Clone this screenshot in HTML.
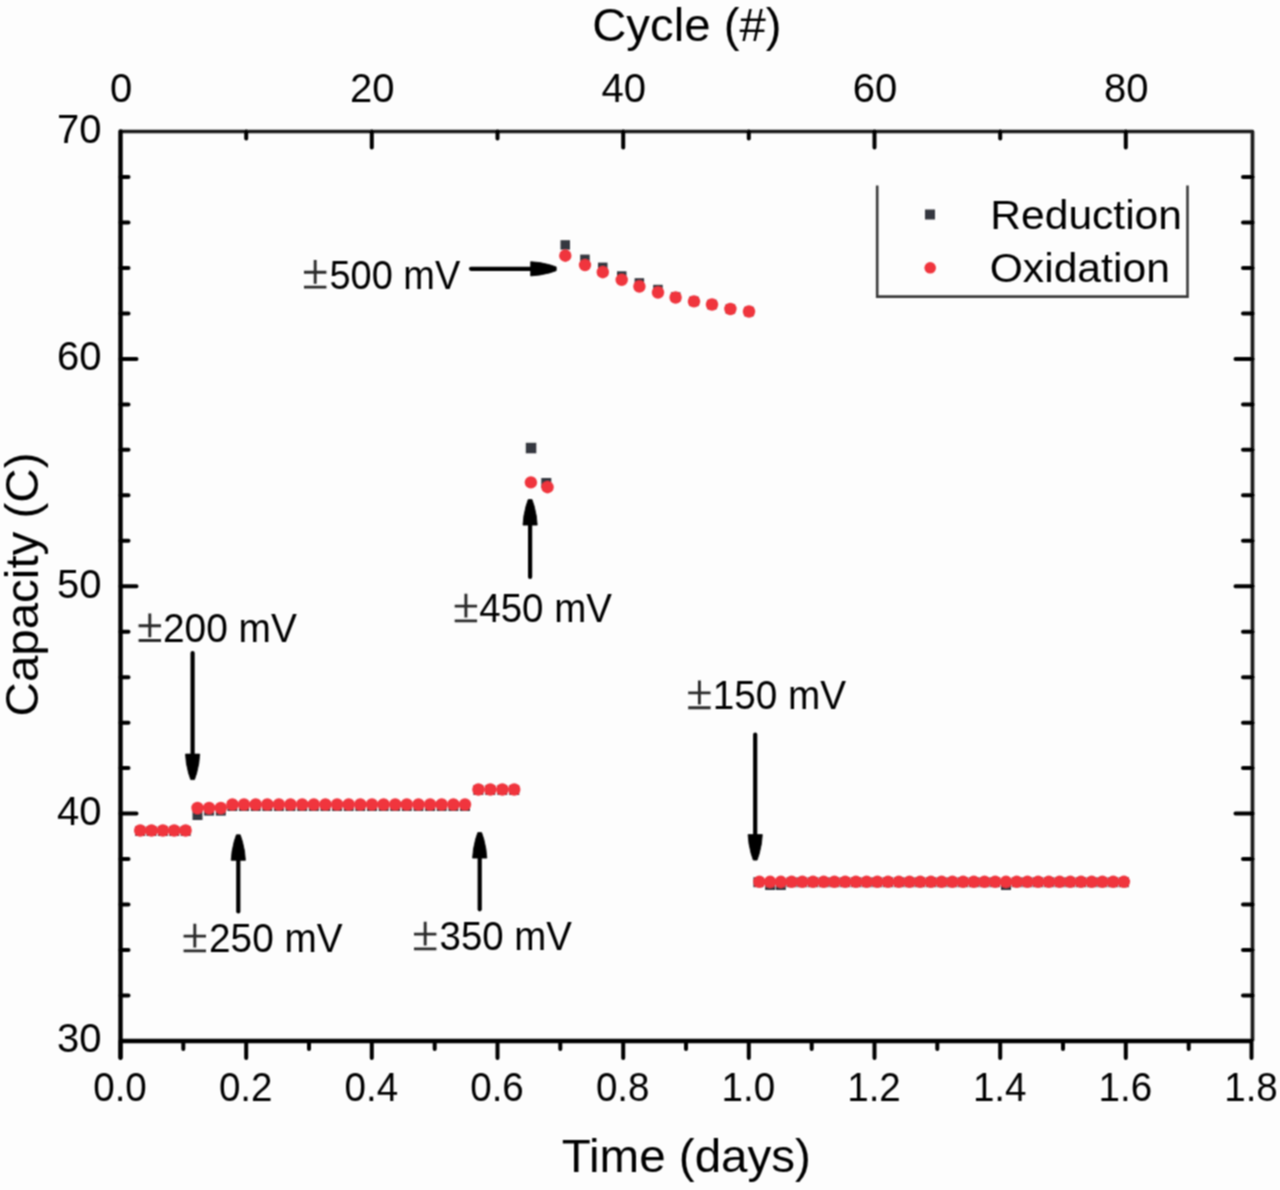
<!DOCTYPE html>
<html><head><meta charset="utf-8"><style>
html,body{margin:0;padding:0;background:#fff;}
svg{display:block;}
text{font-family:"Liberation Sans", sans-serif;fill:#000;}
</style></head><body>
<svg width="1280" height="1190" viewBox="0 0 1280 1190">
<defs><filter id="bl" x="0" y="0" width="1280" height="1190" filterUnits="userSpaceOnUse"><feConvolveMatrix order="3" kernelMatrix="1 2 1 2 4 2 1 2 1" divisor="16" edgeMode="none"/></filter></defs>
<rect width="1280" height="1190" fill="#fdfdfd"/>
<g filter="url(#bl)">
<path d="M120.5,131.5 H1252.5 V1041.0" fill="none" stroke="#1a1a1a" stroke-width="3.7" stroke-linejoin="round"/>
<path d="M1252.5,1041.0 H120.5" fill="none" stroke="#000" stroke-width="4.3"/>
<path d="M120.5,131.5 V1057.5" fill="none" stroke="#000" stroke-width="4.4" stroke-linecap="round"/>
<path d="M120.5,1041.0 V1058.0 M183.3,1041.0 V1049.0 M246.2,1041.0 V1058.0 M309.0,1041.0 V1049.0 M371.8,1041.0 V1058.0 M434.7,1041.0 V1049.0 M497.5,1041.0 V1058.0 M560.3,1041.0 V1049.0 M623.2,1041.0 V1058.0 M686.0,1041.0 V1049.0 M748.8,1041.0 V1058.0 M811.7,1041.0 V1049.0 M874.5,1041.0 V1058.0 M937.3,1041.0 V1049.0 M1000.2,1041.0 V1058.0 M1063.0,1041.0 V1049.0 M1125.8,1041.0 V1058.0 M1188.7,1041.0 V1049.0 M1251.5,1041.0 V1058.0 M246.2,131.5 V138.5 M371.8,131.5 V147.5 M497.5,131.5 V138.5 M623.2,131.5 V147.5 M748.8,131.5 V138.5 M874.5,131.5 V147.5 M1000.2,131.5 V138.5 M1125.8,131.5 V147.5 M120.5,995.5 H128.5 M1252.5,995.5 H1243.0 M120.5,950.0 H128.5 M1252.5,950.0 H1243.0 M120.5,904.6 H128.5 M1252.5,904.6 H1243.0 M120.5,859.1 H128.5 M1252.5,859.1 H1243.0 M120.5,813.6 H136.5 M1252.5,813.6 H1235.5 M120.5,768.1 H128.5 M1252.5,768.1 H1243.0 M120.5,722.7 H128.5 M1252.5,722.7 H1243.0 M120.5,677.2 H128.5 M1252.5,677.2 H1243.0 M120.5,631.7 H128.5 M1252.5,631.7 H1243.0 M120.5,586.2 H136.5 M1252.5,586.2 H1235.5 M120.5,540.8 H128.5 M1252.5,540.8 H1243.0 M120.5,495.3 H128.5 M1252.5,495.3 H1243.0 M120.5,449.8 H128.5 M1252.5,449.8 H1243.0 M120.5,404.4 H128.5 M1252.5,404.4 H1243.0 M120.5,358.9 H136.5 M1252.5,358.9 H1235.5 M120.5,313.4 H128.5 M1252.5,313.4 H1243.0 M120.5,267.9 H128.5 M1252.5,267.9 H1243.0 M120.5,222.5 H128.5 M1252.5,222.5 H1243.0 M120.5,177.0 H128.5 M1252.5,177.0 H1243.0" fill="none" stroke="#000" stroke-width="4.0" stroke-linecap="round"/>
<text x="101.5" y="1052.4" font-size="40" text-anchor="end" >30</text>
<text x="101.5" y="825.0" font-size="40" text-anchor="end" >40</text>
<text x="101.5" y="597.6" font-size="40" text-anchor="end" >50</text>
<text x="101.5" y="370.3" font-size="40" text-anchor="end" >60</text>
<text x="101.5" y="142.9" font-size="40" text-anchor="end" >70</text>
<text x="0" y="0" font-size="40" text-anchor="middle" transform="translate(120.0,1101.2) scale(0.965,1)">0.0</text>
<text x="0" y="0" font-size="40" text-anchor="middle" transform="translate(245.7,1101.2) scale(0.965,1)">0.2</text>
<text x="0" y="0" font-size="40" text-anchor="middle" transform="translate(371.3,1101.2) scale(0.965,1)">0.4</text>
<text x="0" y="0" font-size="40" text-anchor="middle" transform="translate(497.0,1101.2) scale(0.965,1)">0.6</text>
<text x="0" y="0" font-size="40" text-anchor="middle" transform="translate(622.7,1101.2) scale(0.965,1)">0.8</text>
<text x="0" y="0" font-size="40" text-anchor="middle" transform="translate(748.3,1101.2) scale(0.965,1)">1.0</text>
<text x="0" y="0" font-size="40" text-anchor="middle" transform="translate(874.0,1101.2) scale(0.965,1)">1.2</text>
<text x="0" y="0" font-size="40" text-anchor="middle" transform="translate(999.7,1101.2) scale(0.965,1)">1.4</text>
<text x="0" y="0" font-size="40" text-anchor="middle" transform="translate(1125.3,1101.2) scale(0.965,1)">1.6</text>
<text x="0" y="0" font-size="40" text-anchor="middle" transform="translate(1251.0,1101.2) scale(0.965,1)">1.8</text>
<text x="121.0" y="101.8" font-size="40" text-anchor="middle" >0</text>
<text x="372.3" y="101.8" font-size="40" text-anchor="middle" >20</text>
<text x="623.7" y="101.8" font-size="40" text-anchor="middle" >40</text>
<text x="875.0" y="101.8" font-size="40" text-anchor="middle" >60</text>
<text x="1126.3" y="101.8" font-size="40" text-anchor="middle" >80</text>
<text x="561.74" y="1172.20" font-size="46.5" textLength="249.19" lengthAdjust="spacingAndGlyphs" >Time (days)</text>
<text x="592.20" y="40.80" font-size="47" textLength="189.34" lengthAdjust="spacingAndGlyphs" >Cycle (#)</text>
<g transform="rotate(-90)">
<text x="-716.41" y="38.30" font-size="47" textLength="263.86" lengthAdjust="spacingAndGlyphs" >Capacity (C)</text>
</g>
<path d="M138.6,625.7 H161.0 M149.8,613.4 V637.2 M138.6,640.5 H161.0" stroke="#2a2a2a" stroke-width="2.9" fill="none"/>
<text x="162.95" y="642.00" font-size="40" textLength="133.93" lengthAdjust="spacingAndGlyphs" >200 mV</text>
<path d="M304.0,272.3 H326.4 M315.2,260.0 V283.8 M304.0,287.1 H326.4" stroke="#2a2a2a" stroke-width="2.9" fill="none"/>
<text x="329.48" y="288.60" font-size="40" textLength="130.79" lengthAdjust="spacingAndGlyphs" >500 mV</text>
<path d="M454.7,606.1 H477.1 M465.9,593.8 V617.6 M454.7,620.9 H477.1" stroke="#2a2a2a" stroke-width="2.9" fill="none"/>
<text x="479.32" y="622.40" font-size="40" textLength="132.55" lengthAdjust="spacingAndGlyphs" >450 mV</text>
<path d="M183.6,936.1 H206.0 M194.8,923.8 V947.6 M183.6,950.9 H206.0" stroke="#2a2a2a" stroke-width="2.9" fill="none"/>
<text x="209.05" y="952.40" font-size="40" textLength="133.52" lengthAdjust="spacingAndGlyphs" >250 mV</text>
<path d="M414.0,934.1 H436.4 M425.2,921.8 V945.6 M414.0,948.9 H436.4" stroke="#2a2a2a" stroke-width="2.9" fill="none"/>
<text x="439.54" y="950.40" font-size="40" textLength="132.33" lengthAdjust="spacingAndGlyphs" >350 mV</text>
<path d="M688.2,692.9 H710.6 M699.4,680.6 V704.4 M688.2,707.7 H710.6" stroke="#2a2a2a" stroke-width="2.9" fill="none"/>
<text x="712.75" y="709.20" font-size="40" textLength="133.42" lengthAdjust="spacingAndGlyphs" >150 mV</text>
<path d="M185.5,754.1 L186.4,763.3 L188.5,773.0 L190.7,779.6 L194.5,779.6 L196.7,773.0 L198.8,763.3 L199.7,754.1 Z" fill="#000" stroke="#000" stroke-width="0.8" stroke-linejoin="round"/>
<path d="M192.6,653 V755.1" stroke="#000" stroke-width="4.2" stroke-linecap="round" fill="none"/>
<path d="M537.2,525.1 L536.3,515.9 L534.2,506.2 L532.0,499.6 L528.2,499.6 L526.0,506.2 L523.9,515.9 L523.0,525.1 Z" fill="#000" stroke="#000" stroke-width="0.8" stroke-linejoin="round"/>
<path d="M530.1,577 V524.1" stroke="#000" stroke-width="4.2" stroke-linecap="round" fill="none"/>
<path d="M245.4,860.3 L244.5,851.1 L242.4,841.4 L240.2,834.8 L236.4,834.8 L234.2,841.4 L232.1,851.1 L231.2,860.3 Z" fill="#000" stroke="#000" stroke-width="0.8" stroke-linejoin="round"/>
<path d="M238.3,911.5 V859.3" stroke="#000" stroke-width="4.2" stroke-linecap="round" fill="none"/>
<path d="M486.8,858.1 L485.9,848.9 L483.8,839.2 L481.6,832.6 L477.8,832.6 L475.6,839.2 L473.5,848.9 L472.6,858.1 Z" fill="#000" stroke="#000" stroke-width="0.8" stroke-linejoin="round"/>
<path d="M479.7,909.3 V857.1" stroke="#000" stroke-width="4.2" stroke-linecap="round" fill="none"/>
<path d="M748.1,834.6 L749.0,843.8 L751.1,853.5 L753.3,860.1 L757.1,860.1 L759.3,853.5 L761.4,843.8 L762.3,834.6 Z" fill="#000" stroke="#000" stroke-width="0.8" stroke-linejoin="round"/>
<path d="M755.2,734.5 V835.6" stroke="#000" stroke-width="4.2" stroke-linecap="round" fill="none"/>
<path d="M530.7,275.9 L539.9,275.0 L549.6,272.9 L556.2,270.7 L556.2,266.9 L549.6,264.7 L539.9,262.6 L530.7,261.7 Z" fill="#000" stroke="#000" stroke-width="0.8" stroke-linejoin="round"/>
<path d="M471.0,268.8 H531.7" stroke="#000" stroke-width="4.2" stroke-linecap="round" fill="none"/>
<path d="M877.2,185.6 V296.6 H1187.5 V185.6" fill="none" stroke="#3a3a3a" stroke-width="2.6"/>
<rect x="925" y="209.5" width="10" height="10" fill="#36373f"/>
<circle cx="930.2" cy="267.8" r="5.8" fill="#f0363e"/>
<text x="990.31" y="229.40" font-size="41" textLength="191.66" lengthAdjust="spacingAndGlyphs" >Reduction</text>
<text x="989.68" y="282.00" font-size="41" textLength="180.19" lengthAdjust="spacingAndGlyphs" >Oxidation</text>
<rect x="135.2" y="826.0" width="10" height="10" fill="#36373f"/>
<rect x="146.5" y="826.0" width="10" height="10" fill="#36373f"/>
<rect x="157.9" y="826.0" width="10" height="10" fill="#36373f"/>
<rect x="169.2" y="826.0" width="10" height="10" fill="#36373f"/>
<rect x="180.6" y="826.0" width="10" height="10" fill="#36373f"/>
<rect x="192.5" y="810.0" width="10" height="10" fill="#36373f"/>
<rect x="204.1" y="805.6" width="10" height="10" fill="#36373f"/>
<rect x="215.8" y="805.6" width="10" height="10" fill="#36373f"/>
<rect x="227.4" y="801.0" width="10" height="10" fill="#36373f"/>
<rect x="239.0" y="801.0" width="10" height="10" fill="#36373f"/>
<rect x="250.7" y="801.0" width="10" height="10" fill="#36373f"/>
<rect x="262.3" y="801.0" width="10" height="10" fill="#36373f"/>
<rect x="273.9" y="801.0" width="10" height="10" fill="#36373f"/>
<rect x="285.5" y="801.0" width="10" height="10" fill="#36373f"/>
<rect x="297.2" y="801.0" width="10" height="10" fill="#36373f"/>
<rect x="308.8" y="801.0" width="10" height="10" fill="#36373f"/>
<rect x="320.4" y="801.0" width="10" height="10" fill="#36373f"/>
<rect x="332.1" y="801.0" width="10" height="10" fill="#36373f"/>
<rect x="343.7" y="801.0" width="10" height="10" fill="#36373f"/>
<rect x="355.3" y="801.0" width="10" height="10" fill="#36373f"/>
<rect x="367.0" y="801.0" width="10" height="10" fill="#36373f"/>
<rect x="378.6" y="801.0" width="10" height="10" fill="#36373f"/>
<rect x="390.2" y="801.0" width="10" height="10" fill="#36373f"/>
<rect x="401.8" y="801.0" width="10" height="10" fill="#36373f"/>
<rect x="413.5" y="801.0" width="10" height="10" fill="#36373f"/>
<rect x="425.1" y="801.0" width="10" height="10" fill="#36373f"/>
<rect x="436.7" y="801.0" width="10" height="10" fill="#36373f"/>
<rect x="448.4" y="801.0" width="10" height="10" fill="#36373f"/>
<rect x="460.0" y="801.0" width="10" height="10" fill="#36373f"/>
<rect x="473.4" y="785.0" width="10" height="10" fill="#36373f"/>
<rect x="485.3" y="785.0" width="10" height="10" fill="#36373f"/>
<rect x="497.3" y="785.0" width="10" height="10" fill="#36373f"/>
<rect x="509.2" y="785.0" width="10" height="10" fill="#36373f"/>
<rect x="525.8" y="442.8" width="10.5" height="10.5" fill="#36373f"/>
<rect x="541.3" y="478.0" width="10" height="10" fill="#36373f"/>
<rect x="560.5" y="240.2" width="9.5" height="9.5" fill="#36373f"/>
<rect x="580.2" y="254.6" width="9.5" height="9.5" fill="#36373f"/>
<rect x="598.0" y="262.6" width="9.5" height="9.5" fill="#36373f"/>
<rect x="617.0" y="271.3" width="9.5" height="9.5" fill="#36373f"/>
<rect x="634.6" y="278.2" width="9.5" height="9.5" fill="#36373f"/>
<rect x="653.2" y="284.8" width="9.5" height="9.5" fill="#36373f"/>
<rect x="670.9" y="292.2" width="9.5" height="9.5" fill="#36373f"/>
<rect x="689.2" y="296.6" width="9.5" height="9.5" fill="#36373f"/>
<rect x="707.2" y="299.8" width="9.5" height="9.5" fill="#36373f"/>
<rect x="725.6" y="304.2" width="9.5" height="9.5" fill="#36373f"/>
<rect x="744.2" y="306.8" width="9.5" height="9.5" fill="#36373f"/>
<rect x="753.4" y="877.2" width="10" height="10" fill="#36373f"/>
<rect x="765.1" y="880.0" width="10" height="10" fill="#36373f"/>
<rect x="775.8" y="880.0" width="10" height="10" fill="#36373f"/>
<rect x="786.6" y="877.2" width="10" height="10" fill="#36373f"/>
<rect x="797.3" y="877.2" width="10" height="10" fill="#36373f"/>
<rect x="808.0" y="877.2" width="10" height="10" fill="#36373f"/>
<rect x="818.7" y="877.2" width="10" height="10" fill="#36373f"/>
<rect x="829.4" y="877.2" width="10" height="10" fill="#36373f"/>
<rect x="840.2" y="877.2" width="10" height="10" fill="#36373f"/>
<rect x="850.9" y="877.2" width="10" height="10" fill="#36373f"/>
<rect x="861.6" y="877.2" width="10" height="10" fill="#36373f"/>
<rect x="872.3" y="877.2" width="10" height="10" fill="#36373f"/>
<rect x="883.0" y="877.2" width="10" height="10" fill="#36373f"/>
<rect x="893.8" y="877.2" width="10" height="10" fill="#36373f"/>
<rect x="904.5" y="877.2" width="10" height="10" fill="#36373f"/>
<rect x="915.2" y="877.2" width="10" height="10" fill="#36373f"/>
<rect x="925.9" y="877.2" width="10" height="10" fill="#36373f"/>
<rect x="936.6" y="877.2" width="10" height="10" fill="#36373f"/>
<rect x="947.4" y="877.2" width="10" height="10" fill="#36373f"/>
<rect x="958.1" y="877.2" width="10" height="10" fill="#36373f"/>
<rect x="968.8" y="877.2" width="10" height="10" fill="#36373f"/>
<rect x="979.5" y="877.2" width="10" height="10" fill="#36373f"/>
<rect x="990.2" y="877.2" width="10" height="10" fill="#36373f"/>
<rect x="1001.0" y="880.0" width="10" height="10" fill="#36373f"/>
<rect x="1011.7" y="877.2" width="10" height="10" fill="#36373f"/>
<rect x="1022.4" y="877.2" width="10" height="10" fill="#36373f"/>
<rect x="1033.1" y="877.2" width="10" height="10" fill="#36373f"/>
<rect x="1043.8" y="877.2" width="10" height="10" fill="#36373f"/>
<rect x="1054.6" y="877.2" width="10" height="10" fill="#36373f"/>
<rect x="1065.3" y="877.2" width="10" height="10" fill="#36373f"/>
<rect x="1076.0" y="877.2" width="10" height="10" fill="#36373f"/>
<rect x="1086.7" y="877.2" width="10" height="10" fill="#36373f"/>
<rect x="1097.4" y="877.2" width="10" height="10" fill="#36373f"/>
<rect x="1108.2" y="877.2" width="10" height="10" fill="#36373f"/>
<rect x="1118.9" y="877.2" width="10" height="10" fill="#36373f"/>
<circle cx="140.2" cy="830.5" r="6.2" fill="#f0363e"/>
<circle cx="151.5" cy="830.5" r="6.2" fill="#f0363e"/>
<circle cx="162.9" cy="830.5" r="6.2" fill="#f0363e"/>
<circle cx="174.2" cy="830.5" r="6.2" fill="#f0363e"/>
<circle cx="185.6" cy="830.5" r="6.2" fill="#f0363e"/>
<circle cx="197.5" cy="808.0" r="6.2" fill="#f0363e"/>
<circle cx="209.1" cy="808.0" r="6.2" fill="#f0363e"/>
<circle cx="220.8" cy="808.0" r="6.2" fill="#f0363e"/>
<circle cx="232.4" cy="804.5" r="6.2" fill="#f0363e"/>
<circle cx="244.0" cy="804.5" r="6.2" fill="#f0363e"/>
<circle cx="255.7" cy="804.5" r="6.2" fill="#f0363e"/>
<circle cx="267.3" cy="804.5" r="6.2" fill="#f0363e"/>
<circle cx="278.9" cy="804.5" r="6.2" fill="#f0363e"/>
<circle cx="290.5" cy="804.5" r="6.2" fill="#f0363e"/>
<circle cx="302.2" cy="804.5" r="6.2" fill="#f0363e"/>
<circle cx="313.8" cy="804.5" r="6.2" fill="#f0363e"/>
<circle cx="325.4" cy="804.5" r="6.2" fill="#f0363e"/>
<circle cx="337.1" cy="804.5" r="6.2" fill="#f0363e"/>
<circle cx="348.7" cy="804.5" r="6.2" fill="#f0363e"/>
<circle cx="360.3" cy="804.5" r="6.2" fill="#f0363e"/>
<circle cx="372.0" cy="804.5" r="6.2" fill="#f0363e"/>
<circle cx="383.6" cy="804.5" r="6.2" fill="#f0363e"/>
<circle cx="395.2" cy="804.5" r="6.2" fill="#f0363e"/>
<circle cx="406.8" cy="804.5" r="6.2" fill="#f0363e"/>
<circle cx="418.5" cy="804.5" r="6.2" fill="#f0363e"/>
<circle cx="430.1" cy="804.5" r="6.2" fill="#f0363e"/>
<circle cx="441.7" cy="804.5" r="6.2" fill="#f0363e"/>
<circle cx="453.4" cy="804.5" r="6.2" fill="#f0363e"/>
<circle cx="465.0" cy="804.5" r="6.2" fill="#f0363e"/>
<circle cx="478.4" cy="789.5" r="6.2" fill="#f0363e"/>
<circle cx="490.3" cy="789.5" r="6.2" fill="#f0363e"/>
<circle cx="502.3" cy="789.5" r="6.2" fill="#f0363e"/>
<circle cx="514.2" cy="789.5" r="6.2" fill="#f0363e"/>
<circle cx="530.9" cy="482.4" r="6.2" fill="#f0363e"/>
<circle cx="547.5" cy="487.2" r="6.2" fill="#f0363e"/>
<circle cx="565.3" cy="255.7" r="6.2" fill="#f0363e"/>
<circle cx="585.0" cy="265.1" r="6.2" fill="#f0363e"/>
<circle cx="602.8" cy="272.2" r="6.2" fill="#f0363e"/>
<circle cx="621.7" cy="279.9" r="6.2" fill="#f0363e"/>
<circle cx="639.4" cy="286.5" r="6.2" fill="#f0363e"/>
<circle cx="658.0" cy="292.5" r="6.2" fill="#f0363e"/>
<circle cx="675.6" cy="297.5" r="6.2" fill="#f0363e"/>
<circle cx="694.0" cy="301.4" r="6.2" fill="#f0363e"/>
<circle cx="712.0" cy="304.5" r="6.2" fill="#f0363e"/>
<circle cx="730.4" cy="309.0" r="6.2" fill="#f0363e"/>
<circle cx="749.0" cy="311.5" r="6.2" fill="#f0363e"/>
<circle cx="759.4" cy="881.8" r="6.2" fill="#f0363e"/>
<circle cx="770.1" cy="881.8" r="6.2" fill="#f0363e"/>
<circle cx="780.8" cy="881.8" r="6.2" fill="#f0363e"/>
<circle cx="791.6" cy="881.8" r="6.2" fill="#f0363e"/>
<circle cx="802.3" cy="881.8" r="6.2" fill="#f0363e"/>
<circle cx="813.0" cy="881.8" r="6.2" fill="#f0363e"/>
<circle cx="823.7" cy="881.8" r="6.2" fill="#f0363e"/>
<circle cx="834.4" cy="881.8" r="6.2" fill="#f0363e"/>
<circle cx="845.2" cy="881.8" r="6.2" fill="#f0363e"/>
<circle cx="855.9" cy="881.8" r="6.2" fill="#f0363e"/>
<circle cx="866.6" cy="881.8" r="6.2" fill="#f0363e"/>
<circle cx="877.3" cy="881.8" r="6.2" fill="#f0363e"/>
<circle cx="888.0" cy="881.8" r="6.2" fill="#f0363e"/>
<circle cx="898.8" cy="881.8" r="6.2" fill="#f0363e"/>
<circle cx="909.5" cy="881.8" r="6.2" fill="#f0363e"/>
<circle cx="920.2" cy="881.8" r="6.2" fill="#f0363e"/>
<circle cx="930.9" cy="881.8" r="6.2" fill="#f0363e"/>
<circle cx="941.6" cy="881.8" r="6.2" fill="#f0363e"/>
<circle cx="952.4" cy="881.8" r="6.2" fill="#f0363e"/>
<circle cx="963.1" cy="881.8" r="6.2" fill="#f0363e"/>
<circle cx="973.8" cy="881.8" r="6.2" fill="#f0363e"/>
<circle cx="984.5" cy="881.8" r="6.2" fill="#f0363e"/>
<circle cx="995.2" cy="881.8" r="6.2" fill="#f0363e"/>
<circle cx="1006.0" cy="881.8" r="6.2" fill="#f0363e"/>
<circle cx="1016.7" cy="881.8" r="6.2" fill="#f0363e"/>
<circle cx="1027.4" cy="881.8" r="6.2" fill="#f0363e"/>
<circle cx="1038.1" cy="881.8" r="6.2" fill="#f0363e"/>
<circle cx="1048.8" cy="881.8" r="6.2" fill="#f0363e"/>
<circle cx="1059.6" cy="881.8" r="6.2" fill="#f0363e"/>
<circle cx="1070.3" cy="881.8" r="6.2" fill="#f0363e"/>
<circle cx="1081.0" cy="881.8" r="6.2" fill="#f0363e"/>
<circle cx="1091.7" cy="881.8" r="6.2" fill="#f0363e"/>
<circle cx="1102.4" cy="881.8" r="6.2" fill="#f0363e"/>
<circle cx="1113.2" cy="881.8" r="6.2" fill="#f0363e"/>
<circle cx="1123.9" cy="881.8" r="6.2" fill="#f0363e"/>
</g>
</svg>
</body></html>
